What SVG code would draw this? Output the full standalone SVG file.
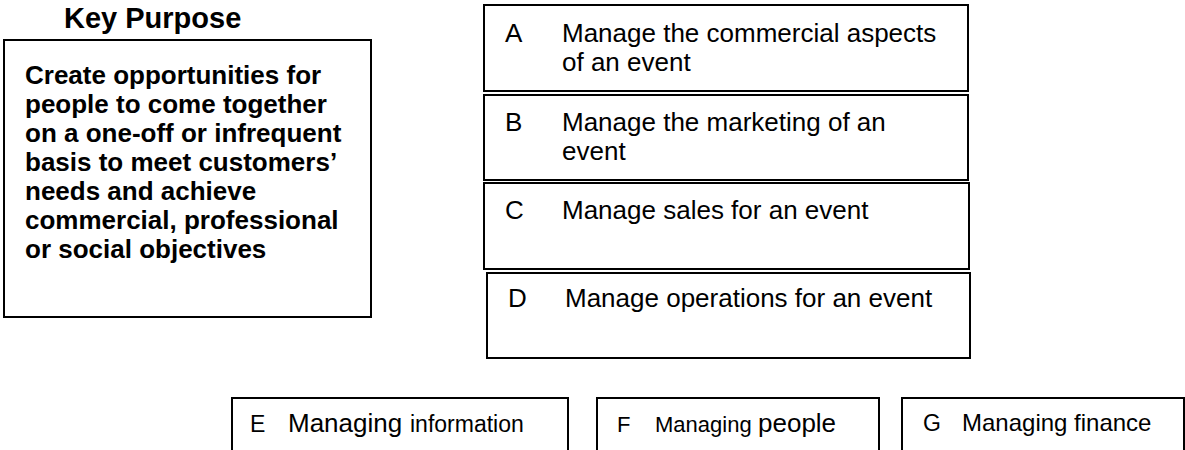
<svg xmlns="http://www.w3.org/2000/svg" width="1185" height="450" viewBox="0 0 1185 450">
<style>
.box{fill:#fff;stroke:#000;stroke-width:2}
.t{font-family:"Liberation Sans",Arial,sans-serif;fill:#000}
.b{font-weight:bold}
</style>
<rect width="1185" height="450" fill="#fff"/>
<g id="key-purpose">
<text class="t b" x="64" y="28" font-size="29">Key Purpose</text>
<rect class="box" x="4" y="40" width="367" height="277"/>
<text class="t b" font-size="26">
<tspan x="25" y="84">Create opportunities for</tspan>
<tspan x="25" y="113">people to come together</tspan>
<tspan x="25" y="142">on a one-off or infrequent</tspan>
<tspan x="25" y="171">basis to meet customers’</tspan>
<tspan x="25" y="200">needs and achieve</tspan>
<tspan x="25" y="229">commercial, professional</tspan>
<tspan x="25" y="258">or social objectives</tspan>
</text>
</g>
<g id="node-a">
<rect class="box" x="484" y="5" width="484" height="86"/>
<text class="t" font-size="26" x="505" y="42">A</text>
<text class="t" font-size="26"><tspan x="562" y="42">Manage the commercial aspects</tspan><tspan x="562" y="71">of an event</tspan></text>
</g>
<g id="node-b">
<rect class="box" x="484" y="95" width="484" height="85"/>
<text class="t" font-size="26" x="505" y="131">B</text>
<text class="t" font-size="26"><tspan x="562" y="131">Manage the marketing of an</tspan><tspan x="562" y="160">event</tspan></text>
</g>
<g id="node-c">
<rect class="box" x="484" y="183" width="485" height="86"/>
<text class="t" font-size="26" x="505" y="219">C</text>
<text class="t" font-size="26" x="562" y="219">Manage sales for an event</text>
</g>
<g id="node-d">
<rect class="box" x="487" y="273" width="483" height="85"/>
<text class="t" font-size="26" x="508" y="307">D</text>
<text class="t" font-size="26" x="565" y="307">Manage operations for an event</text>
</g>
<g id="node-e">
<path class="box" d="M232,452 V398 H568 V452"/>
<text class="t" y="432"><tspan x="250" font-size="23">E</tspan><tspan x="288" font-size="26">Managing</tspan><tspan x="410" font-size="23">information</tspan></text>
</g>
<g id="node-f">
<path class="box" d="M597,452 V398 H879 V452"/>
<text class="t" y="432"><tspan x="617" font-size="22">F</tspan><tspan x="655" font-size="22">Managing</tspan><tspan x="758" font-size="26">people</tspan></text>
</g>
<g id="node-g">
<path class="box" d="M902,452 V398 H1184 V452"/>
<text class="t" y="431"><tspan x="923" font-size="23">G</tspan><tspan x="962" font-size="24">Managing finance</tspan></text>
</g>
<g id="connectors"/>
</svg>
